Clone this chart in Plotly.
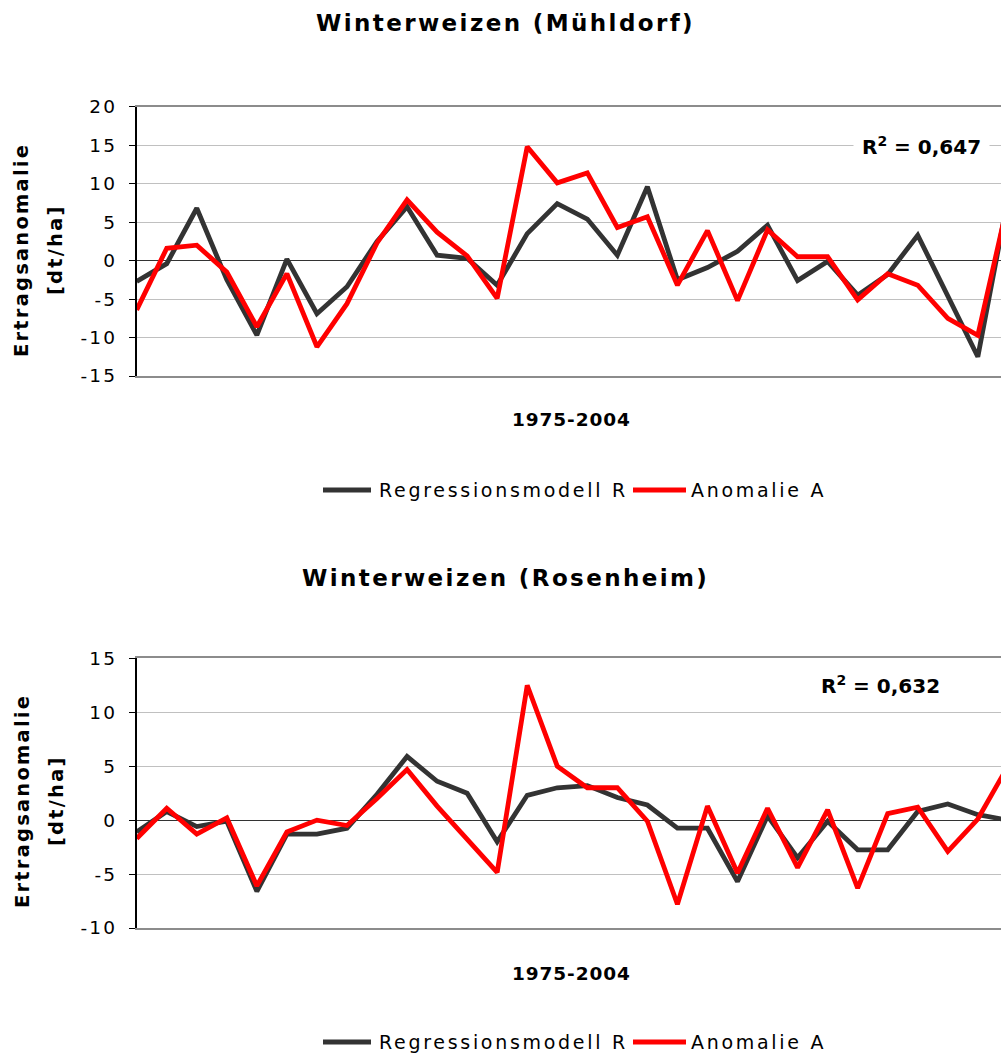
import plotly.graph_objects as go

# Years 1975-2004 (category positions along the x axis)
years = [1975, 1976, 1977, 1978, 1979, 1980, 1981, 1982, 1983, 1984,
         1985, 1986, 1987, 1988, 1989, 1990, 1991, 1992, 1993, 1994,
         1995, 1996, 1997, 1998, 1999, 2000, 2001, 2002, 2003, 2004]

# Winterweizen Mühldorf: regression model and observed anomaly [dt/ha]
muehldorf_model = [-2.7, -0.4, 6.8, -2.5, -9.7, 0.2, -6.9, -3.4, 2.5, 7.0,
                   0.7, 0.3, -3.2, 3.5, 7.4, 5.4, 0.7, 9.6, -2.5, -0.9,
                   1.2, 4.6, -2.6, -0.1, -4.5, -1.8, 3.3, -4.6, -12.5, 8.0]
muehldorf_anom = [-6.4, 1.6, 2.0, -1.5, -8.6, -1.7, -11.2, -5.6, 2.3, 7.9,
                  3.7, 0.6, -4.9, 14.8, 10.1, 11.4, 4.3, 5.7, -3.2, 3.9,
                  -5.2, 4.0, 0.5, 0.5, -5.1, -1.7, -3.2, -7.5, -9.7, 7.5]

# Winterweizen Rosenheim: regression model and observed anomaly [dt/ha]
rosenheim_model = [-1.1, 0.8, -0.6, -0.1, -6.6, -1.3, -1.3, -0.75, 2.4, 5.9,
                   3.6, 2.5, -2.0, 2.3, 3.0, 3.2, 2.1, 1.4, -0.75, -0.75,
                   -5.7, 0.4, -3.5, -0.1, -2.75, -2.75, 0.8, 1.5, 0.5, 0.0]
rosenheim_anom = [-1.7, 1.1, -1.3, 0.2, -6.1, -1.1, 0.0, -0.5, 2.0, 4.7,
                  1.3, -1.7, -4.85, 12.5, 5.0, 3.0, 3.0, -0.1, -7.8, 1.3,
                  -4.9, 1.1, -4.4, 0.95, -6.3, 0.6, 1.2, -2.9, 0.1, 5.0]

titles = ["Winterweizen (Mühldorf)", "Winterweizen (Rosenheim)"]
r2_labels = ["0,647", "0,632"]
series_names = ["Regressionsmodell R", "Anomalie A"]
y_title = ["Ertragsanomalie", "[dt/ha]"]
x_title = "1975-2004"
ticks_top = [-15, -10, -5, 0, 5, 10, 15, 20]
ticks_bottom = [-10, -5, 0, 5, 10, 15]

FONT = "DejaVu Sans, Verdana, sans-serif"
W, H = 1001, 1057
BLACK_LINE = "#333333"
RED_LINE = "#FF0000"
series_colors = [BLACK_LINE, RED_LINE]


def spaced(text, ls):
    return f'<span style="letter-spacing:{ls}px">{text}</span>'


def py(px):
    """Pixel row from the top -> paper y."""
    return 1 - px / H


def pxx(px):
    return px / W


fig = go.Figure()

panels = [
    (muehldorf_model, muehldorf_anom, "x", "y"),
    (rosenheim_model, rosenheim_anom, "x2", "y2"),
]
for model, anom, xa, ya in panels:
    for name, vals, col in zip(series_names, [model, anom], series_colors):
        fig.add_trace(go.Scatter(x=years, y=vals, mode="lines", name=name,
                                 line=dict(color=col, width=4.8), xaxis=xa, yaxis=ya,
                                 showlegend=False))

# plot area: first year sits on the left axis, last year runs just past the right edge
step = 30.04
x_left = 136.7
x_range = [years[0], years[0] + (W - x_left) / step]

xaxis_common = dict(domain=[pxx(x_left), 1.0], range=x_range, showgrid=False,
                    showticklabels=False, ticks="", zeroline=False, automargin=False,
                    showline=True, mirror=True, linecolor="#8C8C8C", linewidth=2)
yaxis_common = dict(showgrid=True, gridcolor="#C0C0C0", gridwidth=1, automargin=False,
                    zeroline=True, zerolinecolor="#333333", zerolinewidth=1,
                    showline=True, linecolor="black", linewidth=1.5,
                    ticks="outside", ticklen=6, tickcolor="black", tickwidth=1,
                    tickfont=dict(family=FONT, size=18.5, color="black"),
                    ticklabelstandoff=8)

fig.update_layout(
    width=W, height=H, autosize=False,
    margin=dict(l=0, r=0, t=0, b=0, autoexpand=False),
    paper_bgcolor="white", plot_bgcolor="white",
    font=dict(family=FONT, color="black"),
    xaxis=dict(anchor="y", **xaxis_common),
    xaxis2=dict(anchor="y2", **xaxis_common),
    yaxis=dict(anchor="x", domain=[py(376), py(106.7)], range=[-15, 20],
               tickmode="array", tickvals=ticks_top,
               ticktext=[spaced(str(v), 2.2) for v in ticks_top], **yaxis_common),
    yaxis2=dict(anchor="x2", domain=[py(928), py(658.3)], range=[-10, 15],
                tickmode="array", tickvals=ticks_bottom,
                ticktext=[spaced(str(v), 2.2) for v in ticks_bottom], **yaxis_common),
    showlegend=False,
)

annotations = []
shapes = []
bold = dict(family=FONT, color="black", weight="bold")

# chart titles
for title, ymid in zip(titles, [23, 578]):
    annotations.append(dict(text=spaced(title, 2.4), x=pxx(505), y=py(ymid), xref="paper",
                            yref="paper", xanchor="center", yanchor="middle", showarrow=False,
                            font=dict(size=23, **bold)))

# R² labels on a white box
for r2, (cx, cy) in zip(r2_labels, [(921, 146), (880, 685)]):
    annotations.append(dict(text=f"R<sup>2</sup> = {r2}", x=pxx(cx), y=py(cy),
                            xref="paper", yref="paper", xanchor="center", yanchor="middle",
                            showarrow=False, bgcolor="white", borderpad=8,
                            font=dict(size=20, **bold)))

# x axis titles
for ymid in [419, 973]:
    annotations.append(dict(text=spaced(x_title, 0.9), x=pxx(571), y=py(ymid), xref="paper",
                            yref="paper", xanchor="center", yanchor="middle", showarrow=False,
                            font=dict(size=18.5, **bold)))

# y axis titles (two rotated lines)
for ymid in [250, 801]:
    for line, xc in zip(y_title, [22, 56]):
        annotations.append(dict(text=spaced(line, 2.2), x=pxx(xc), y=py(ymid), xref="paper",
                                yref="paper", xanchor="center", yanchor="middle",
                                textangle=-90, showarrow=False,
                                font=dict(size=19.5, **bold)))

# legend below each panel: line sample followed by the series name
legend_rows = [490, 1042]
sample_spans = [(323, 371), (633, 686)]
text_starts = [377, 689]
for row in legend_rows:
    for name, col, (x0, x1), tx in zip(series_names, series_colors, sample_spans, text_starts):
        shapes.append(dict(type="line", xref="paper", yref="paper",
                           x0=pxx(x0), x1=pxx(x1), y0=py(row), y1=py(row),
                           line=dict(color=col, width=5)))
        annotations.append(dict(text=spaced(name, 2.7), x=pxx(tx), y=py(row), xref="paper",
                                yref="paper", xanchor="left", yanchor="middle",
                                showarrow=False,
                                font=dict(family=FONT, size=19, color="black")))

fig.update_layout(annotations=annotations, shapes=shapes)

fig.write_html("out.html")
